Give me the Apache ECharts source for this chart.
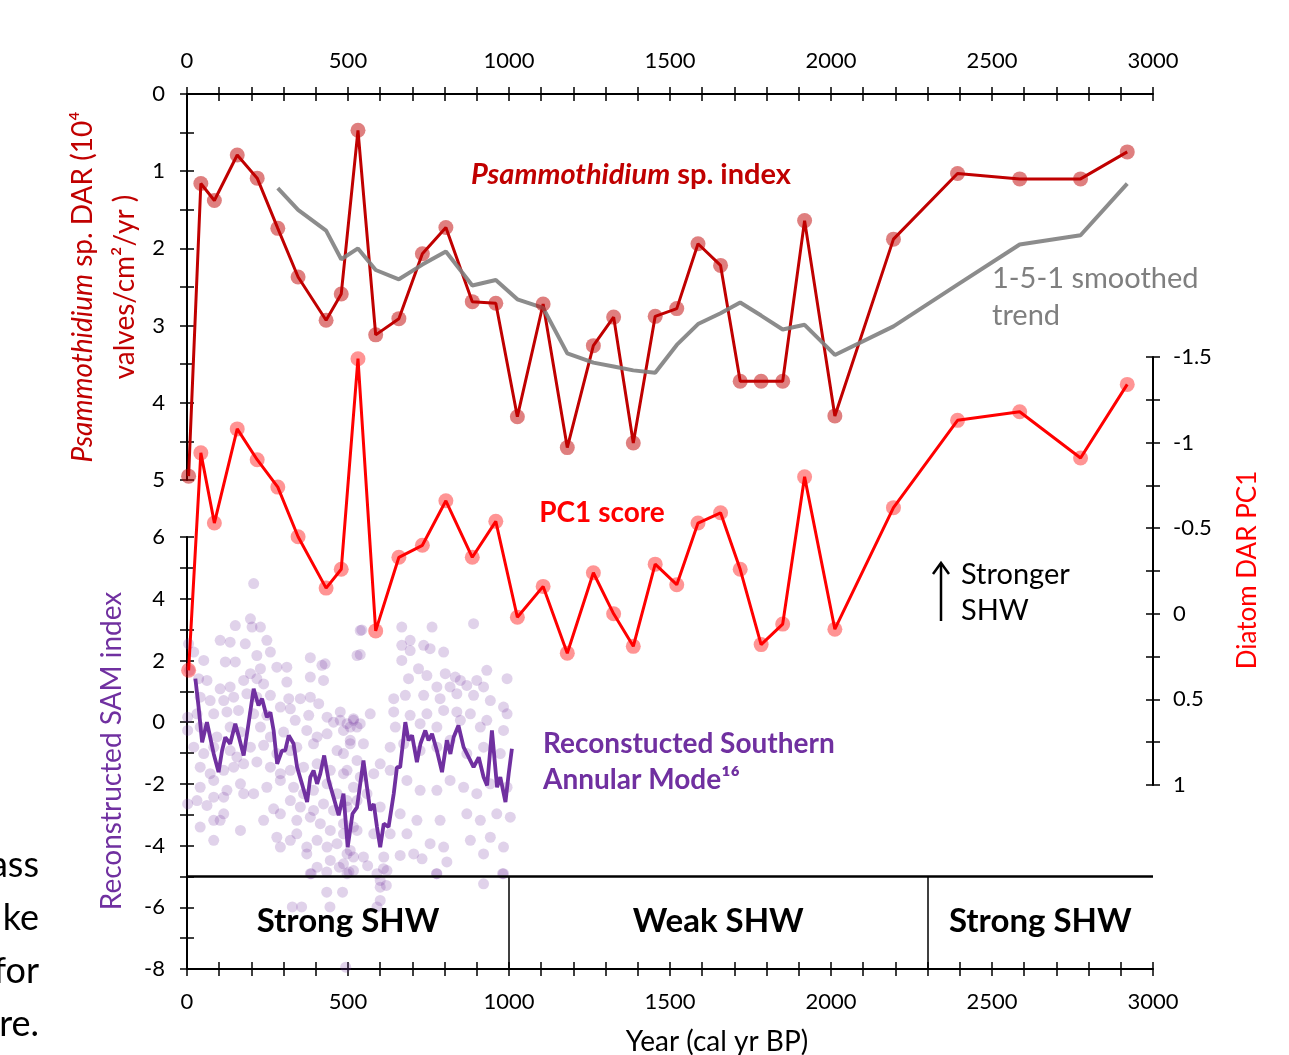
<!DOCTYPE html>
<html>
<head>
<meta charset="utf-8">
<script src="https://cdn.jsdelivr.net/npm/echarts@6/dist/echarts.min.js"></script>
<style>
  html, body { margin: 0; padding: 0; background: #fff; }
  #chart { width: 1289px; height: 1055px; }
</style>
</head>
<body>
<div id="chart"></div>
<script>
// sample ages (cal yr BP) shared by the diatom records
const sampleYears = [5, 43, 85, 156, 218, 282, 345, 432, 479, 531, 586, 658, 731, 804, 886, 959, 1026, 1106, 1181, 1262,
  1325, 1386, 1454, 1521, 1587, 1657, 1718, 1783, 1850, 1918, 2012, 2194, 2393, 2586, 2775, 2920];

// Psammothidium sp. DAR (10^4 valves/cm2/yr)
const psamIndex = [4.95, 1.16, 1.38, 0.79, 1.09, 1.74, 2.37, 2.93, 2.59, 0.47, 3.12, 2.91, 2.07, 1.73, 2.69, 2.71, 4.18, 2.72, 4.58, 3.26,
  2.89, 4.52, 2.88, 2.78, 1.94, 2.22, 3.72, 3.72, 3.72, 1.64, 4.17, 1.88, 1.03, 1.10, 1.10, 0.75];

// 1-5-1 smoothed trend (starts at the 6th sample)
const smoothYears = sampleYears.slice(5);
const smoothTrend = [1.22, 1.50, 1.77, 2.14, 2.00, 2.28, 2.40, 2.21, 2.04, 2.48, 2.41, 2.66, 2.77, 3.36, 3.48,
  3.53, 3.58, 3.61, 3.25, 2.98, 2.84, 2.70, 2.87, 3.05, 2.99, 3.38, 3.01, 2.47, 1.95, 1.83, 1.16];

// Diatom DAR PC1
const pc1Score = [0.33, -0.94, -0.53, -1.08, -0.90, -0.74, -0.45, -0.15, -0.26, -1.49, 0.10, -0.33, -0.40, -0.66, -0.33, -0.54, 0.02, -0.16, 0.23, -0.24,
  0.00, 0.19, -0.29, -0.17, -0.53, -0.59, -0.26, 0.18, 0.06, -0.80, 0.09, -0.62, -1.13, -1.18, -0.91, -1.34];

// reconstructed SAM index (line)
const samLine = [[26, 1.41], [36, 0.49], [47, -0.65], [62, 0], [72, -0.49], [83, -1.03], [98, -1.62], [109, -0.92], [119, -0.49], [134, -0.70],
  [150, -0.05], [160, -0.43], [176, -1.08], [191, -0.05], [207, 1.08], [222, 0.54], [233, 0.76], [248, 0.16], [259, 0.32], [269, -0.27],
  [280, -1.35], [295, -0.92], [305, -0.92], [316, -0.43], [331, -0.70], [342, -1.46], [357, -2.0], [373, -2.59], [383, -1.78], [393, -1.57],
  [404, -2.0], [414, -1.67], [426, -1.08], [440, -1.89], [455, -2.43], [471, -3.02], [486, -2.32], [499, -4.05], [514, -2.97], [528, -2.76],
  [548, -1.24], [559, -2.11], [569, -2.86], [580, -2.65], [590, -3.40], [600, -4.05], [611, -3.29], [626, -3.40], [642, -2.32], [652, -1.46],
  [662, -1.46], [678, 0], [688, -0.59], [699, -0.43], [714, -1.30], [725, -0.70], [740, -0.27], [750, -0.59], [761, -0.38], [776, -0.92],
  [792, -1.62], [807, -0.59], [818, -1.03], [828, -0.49], [843, -0.11], [859, -0.81], [875, -1.14], [890, -1.46], [906, -1.14], [921, -1.78],
  [932, -2.05], [947, -0.27], [963, -2.11], [973, -1.78], [989, -2.59], [999, -1.67], [1009, -0.86]];

// reconstructed SAM index (annual values, dots)
const samDots = [
  [207, 4.49], [150, 3.13], [197, 3.35], [202, 3.08], [228, 3.08], [103, 2.65], [134, 2.59], [181, 2.54], [248, 2.65], [259, 2.27],
  [217, 2.16], [5, 2.54], [21, 2.27], [52, 2.00], [119, 1.95], [150, 1.95], [228, 1.73], [279, 1.78], [310, 1.78], [383, 2.09],
  [419, 1.84], [429, 1.89], [8, 1.68], [36, 1.41], [62, 1.35], [103, 1.08], [134, 1.14], [176, 1.35], [197, 1.57], [217, 1.41],
  [238, 1.24], [310, 1.30], [383, 1.46], [424, 1.35], [528, 2.16], [538, 2.97], [41, 0.81], [72, 0.70], [114, 0.70], [145, 0.81],
  [186, 0.92], [217, 0.81], [259, 0.87], [290, 0.49], [316, 0.76], [352, 0.76], [383, 0.81], [409, 0.60], [476, 0.33], [517, 0.06],
  [2, 0.16], [31, 0.27], [83, 0.27], [124, 0.33], [160, 0.38], [207, 0.27], [248, 0.22], [321, 0.43], [336, 0.06], [378, 0.22],
  [435, 0.16], [455, 0.00], [497, -0.05], [2, -0.27], [41, -0.16], [93, -0.48], [134, -0.16], [166, -0.32], [228, -0.16], [259, -0.48],
  [300, -0.32], [372, -0.27], [404, -0.48], [435, -0.38], [486, -0.27], [528, -0.16], [21, -0.81], [52, -1.02], [83, -0.81], [134, -0.92],
  [155, -1.13], [197, -0.81], [238, -0.75], [279, -1.02], [321, -0.92], [341, -0.81], [393, -0.70], [466, -0.92], [507, -0.70], [41, -1.46],
  [72, -1.67], [114, -1.56], [145, -1.46], [176, -1.35], [217, -1.29], [259, -1.46], [290, -1.67], [321, -1.56], [362, -1.46], [404, -1.35],
  [445, -1.56], [486, -1.67], [528, -1.24], [41, -2.11], [83, -1.89], [124, -2.21], [166, -2.00], [207, -2.32], [248, -2.11], [290, -1.89],
  [331, -2.11], [362, -2.32], [393, -2.21], [435, -2.00], [466, -2.32], [517, -2.11], [2, -2.65], [31, -2.54], [62, -2.70], [83, -2.43],
  [114, -2.43], [176, -2.32], [269, -2.81], [321, -2.54], [352, -2.75], [393, -2.86], [424, -2.65], [455, -2.86], [497, -2.75], [528, -2.54],
  [83, -3.18], [103, -3.18], [114, -2.97], [238, -3.18], [290, -2.97], [341, -3.18], [383, -3.08], [414, -3.29], [445, -3.51], [486, -3.62],
  [517, -3.40], [41, -3.40], [83, -3.83], [166, -3.51], [279, -3.73], [290, -4.05], [321, -3.83], [341, -3.62], [372, -4.05], [404, -3.83],
  [435, -4.05], [466, -3.94], [507, -4.16], [372, -4.27], [404, -4.70], [445, -4.48], [486, -4.59], [517, -4.37], [383, -4.91], [497, -4.91],
  [543, 2.99], [667, 3.08], [761, 3.08], [890, 3.19], [538, 2.19], [667, 2.49], [693, 2.65], [735, 2.49], [755, 2.38], [797, 2.27],
  [693, 2.32], [667, 2.00], [719, 1.73], [745, 1.51], [688, 1.41], [802, 1.57], [833, 1.46], [849, 1.35], [900, 1.35], [931, 1.68],
  [994, 1.41], [776, 1.14], [817, 1.14], [869, 1.19], [921, 1.14], [642, 0.76], [678, 0.87], [735, 0.87], [786, 0.76], [838, 0.92],
  [890, 0.87], [942, 0.70], [983, 0.49], [642, 0.33], [693, 0.22], [745, 0.27], [797, 0.38], [838, 0.33], [880, 0.27], [931, 0.06],
  [994, 0.27], [517, 0.11], [569, 0.27], [476, 0.06], [507, -0.16], [538, -0.05], [647, -0.16], [724, -0.05], [776, -0.16], [849, 0.06],
  [911, -0.16], [983, -0.27], [548, -0.70], [507, -0.59], [600, -1.35], [631, -0.81], [673, -0.70], [724, -0.92], [776, -0.81], [817, -0.59],
  [869, -1.02], [921, -0.81], [973, -1.02], [486, -1.02], [497, -1.56], [538, -1.78], [580, -1.67], [631, -1.56], [683, -1.89], [724, -2.21],
  [776, -2.21], [817, -1.89], [859, -2.11], [900, -2.32], [942, -2.00], [994, -2.11], [497, -2.54], [559, -2.32], [600, -2.75], [662, -2.97],
  [714, -3.18], [786, -3.18], [869, -2.97], [911, -3.18], [962, -2.97], [1004, -3.08], [486, -3.29], [528, -3.51], [580, -3.62], [631, -3.62],
  [683, -3.62], [755, -3.94], [797, -4.05], [880, -3.83], [942, -3.73], [983, -4.05], [497, -4.27], [548, -4.37], [611, -4.37], [662, -4.32],
  [704, -4.27], [730, -4.43], [807, -4.53], [921, -4.27], [517, -4.81], [621, -4.81], [776, -4.91], [983, -4.91],
  [386, -4.91], [434, -4.86], [473, -4.70], [503, -4.86], [561, -4.65], [590, -4.91], [610, -4.75], [600, -5.13], [619, -5.29], [600, -5.35],
  [434, -5.51], [483, -5.51], [327, -5.99], [356, -5.99], [444, -5.99], [600, -5.78], [590, -5.99], [775, -4.91], [921, -5.24], [980, -4.91],
  [493, -7.94]];

// SHW phases along the bottom band
const phaseBounds = [1000, 2300];
const phaseLabels = ['Strong SHW', 'Weak SHW', 'Strong SHW'];
const phaseCenters = [500, 1650, 2650];

const FONT = 'Lato';
const BLACK = '#000';
const tick = { length: 7, lineStyle: { color: BLACK, width: 1.5 } };
const plain = v => String(v);

function xAxisPair(grid, position) {
  const main = {
    gridIndex: grid, type: 'value', position, min: 0, max: 3000, interval: 500,
    axisLine: { show: true, onZero: false, lineStyle: { color: BLACK, width: 2 } },
    axisTick: { show: true, ...tick },
    minorTick: { show: true, splitNumber: 5, ...tick },
    axisLabel: { fontFamily: FONT, fontSize: 22, color: BLACK, margin: 22, formatter: plain },
    splitLine: { show: false }
  };
  const twin = {
    gridIndex: grid, type: 'value', position, min: 0, max: 3000, interval: 500,
    axisLine: { show: false, onZero: false },
    axisTick: { show: true, inside: true, ...tick },
    minorTick: { show: true, splitNumber: 5, ...tick },
    axisLabel: { show: false },
    splitLine: { show: false }
  };
  return [main, twin];
}

function yAxisPair(grid, position, min, max, interval, inverse) {
  const main = {
    gridIndex: grid, type: 'value', position, min, max, interval, inverse,
    axisLine: { show: true, onZero: false, lineStyle: { color: BLACK, width: 2 } },
    axisTick: { show: true, ...tick },
    minorTick: { show: true, splitNumber: 2, ...tick },
    axisLabel: { fontFamily: FONT, fontSize: 22, color: BLACK, margin: position === 'right' ? 20 : 22, formatter: plain },
    splitLine: { show: false }
  };
  const twin = {
    gridIndex: grid, type: 'value', position, min, max, interval, inverse,
    axisLine: { show: false, onZero: false },
    axisTick: { show: true, inside: true, ...tick },
    minorTick: { show: true, splitNumber: 2, ...tick },
    axisLabel: { show: false },
    splitLine: { show: false }
  };
  return [main, twin];
}

const chart = echarts.init(document.getElementById('chart'));

const [xTop, xTopTwin] = xAxisPair(0, 'top');
const [xBot, xBotTwin] = xAxisPair(2, 'bottom');
const [yPsam, yPsamTwin] = yAxisPair(0, 'left', 0, 5, 1, true);
const [yPc1, yPc1Twin] = yAxisPair(1, 'right', -1.5, 1, 0.5, true);
const [ySam, ySamTwin] = yAxisPair(2, 'left', -8, 6, 2, false);

const option = {
  animation: false,
  backgroundColor: '#fff',
  grid: [
    { left: 187, top: 94, width: 966, height: 386 },
    { left: 187, top: 357, width: 966, height: 428 },
    { left: 187, top: 537, width: 966, height: 432 }
  ],
  xAxis: [
    xTop, xTopTwin,
    { gridIndex: 1, type: 'value', min: 0, max: 3000, show: false },
    xBot, xBotTwin
  ],
  yAxis: [yPsam, yPsamTwin, yPc1, yPc1Twin, ySam, ySamTwin],
  series: [
    {
      name: 'SAM annual',
      type: 'scatter',
      xAxisIndex: 3, yAxisIndex: 4,
      data: samDots,
      symbolSize: 11,
      itemStyle: { color: 'rgba(112,48,160,0.22)', opacity: 1 },
      silent: true
    },
    {
      name: 'SAM',
      type: 'line',
      xAxisIndex: 3, yAxisIndex: 4,
      data: samLine,
      showSymbol: false,
      lineStyle: { color: '#7030a0', width: 3.8 },
      markLine: {
        silent: true,
        symbol: 'none',
        label: { show: false },
        data: [
          [{ coord: [0, -5], lineStyle: { color: BLACK, width: 2.5, type: 'solid' } }, { coord: [3000, -5] }],
          ...phaseBounds.map(b => [
            { coord: [b, -5], lineStyle: { color: BLACK, width: 1.5, type: 'solid' } }, { coord: [b, -8] }
          ])
        ]
      }
    },
    {
      name: 'phases',
      type: 'scatter',
      xAxisIndex: 3, yAxisIndex: 4,
      data: phaseLabels.map((t, i) => ({ value: [phaseCenters[i], -6.45], name: t })),
      symbolSize: 1,
      itemStyle: { color: 'rgba(0,0,0,0)', opacity: 1 },
      label: {
        show: true, position: 'inside', formatter: p => p.name,
        fontFamily: FONT, fontWeight: 'bold', fontSize: 33, color: BLACK, textBorderWidth: 0
      },
      silent: true
    },
    {
      name: 'PC1 score',
      type: 'line',
      xAxisIndex: 2, yAxisIndex: 2,
      data: sampleYears.map((y, i) => [y, pc1Score[i]]),
      symbol: 'circle', symbolSize: 15, showAllSymbol: true,
      lineStyle: { color: '#ff0000', width: 3 },
      itemStyle: { color: 'rgba(255,0,0,0.42)', borderWidth: 0 }
    },
    {
      name: 'Psammothidium sp. index',
      type: 'line',
      xAxisIndex: 0, yAxisIndex: 0,
      data: sampleYears.map((y, i) => [y, psamIndex[i]]),
      symbol: 'circle', symbolSize: 15, showAllSymbol: true,
      lineStyle: { color: '#c00000', width: 3 },
      itemStyle: { color: 'rgba(192,0,0,0.5)', borderWidth: 0 }
    },
    {
      name: '1-5-1 smoothed trend',
      type: 'line',
      xAxisIndex: 0, yAxisIndex: 0,
      data: smoothYears.map((y, i) => [y, smoothTrend[i]]),
      showSymbol: false,
      lineStyle: { color: '#7f7f7f', width: 4, opacity: 0.9 }
    }
  ],
  graphic: [
    // series labels
    {
      type: 'text', x: 631, y: 175,
      style: {
        text: '{i|Psammothidium} sp. index', align: 'center', verticalAlign: 'middle',
        font: `bold 29px ${FONT}`, fill: '#c00000',
        rich: { i: { fontStyle: 'italic', fontWeight: 'bold', fontSize: 29, fontFamily: FONT, fill: '#c00000' } }
      }
    },
    {
      type: 'text', x: 992, y: 297,
      style: { text: '1-5-1 smoothed\ntrend', align: 'left', verticalAlign: 'middle', font: `29px ${FONT}`, fill: '#7f7f7f', lineHeight: 37 }
    },
    {
      type: 'text', x: 602, y: 513,
      style: { text: 'PC1 score', align: 'center', verticalAlign: 'middle', font: `bold 28px ${FONT}`, fill: '#ff0000' }
    },
    {
      type: 'text', x: 961, y: 593,
      style: { text: 'Stronger\nSHW', align: 'left', verticalAlign: 'middle', font: `29px ${FONT}`, fill: BLACK, lineHeight: 36 }
    },
    {
      type: 'group',
      children: [
        { type: 'line', shape: { x1: 941, y1: 621, x2: 941, y2: 565 }, style: { stroke: BLACK, lineWidth: 2.5 } },
        { type: 'polyline', shape: { points: [[933, 574], [941, 563], [949, 574]] }, style: { stroke: BLACK, lineWidth: 2.5, fill: null } }
      ]
    },
    {
      type: 'text', x: 543, y: 762,
      style: {
        text: 'Reconstucted Southern\nAnnular Mode¹⁶', align: 'left', verticalAlign: 'middle',
        font: `bold 28px ${FONT}`, fill: '#7030a0', lineHeight: 36
      }
    },
    // axis titles
    {
      type: 'text', x: 104, y: 287, rotation: Math.PI / 2,
      style: {
        text: '{i|Psammothidium} sp. DAR (10⁴\nvalves/cm²/yr )', align: 'center', verticalAlign: 'middle',
        font: `28px ${FONT}`, fill: '#c00000', lineHeight: 42,
        rich: {
          i: { fontStyle: 'italic', fontSize: 28, fontFamily: FONT, fill: '#c00000', lineHeight: 42 }
        }
      }
    },
    {
      type: 'text', x: 112, y: 751, rotation: Math.PI / 2,
      style: { text: 'Reconstructed SAM index', align: 'center', verticalAlign: 'middle', font: `28px ${FONT}`, fill: '#7030a0' }
    },
    {
      type: 'text', x: 1248, y: 570, rotation: Math.PI / 2,
      style: { text: 'Diatom DAR PC1', align: 'center', verticalAlign: 'middle', font: `26px ${FONT}`, fill: '#ff0000' }
    },
    {
      type: 'text', x: 717, y: 1042,
      style: { text: 'Year (cal yr BP)', align: 'center', verticalAlign: 'middle', font: `28px ${FONT}`, fill: BLACK }
    },
    // clipped slide text at the left edge
    {
      type: 'text', x: 39, y: 945,
      style: { text: 'ass\nke\nfor\nre.', align: 'right', verticalAlign: 'middle', font: `36px ${FONT}`, fill: BLACK, lineHeight: 53 }
    }
  ]
};

chart.setOption(option);
window.addEventListener('resize', () => chart.resize());
</script>
</body>
</html>
